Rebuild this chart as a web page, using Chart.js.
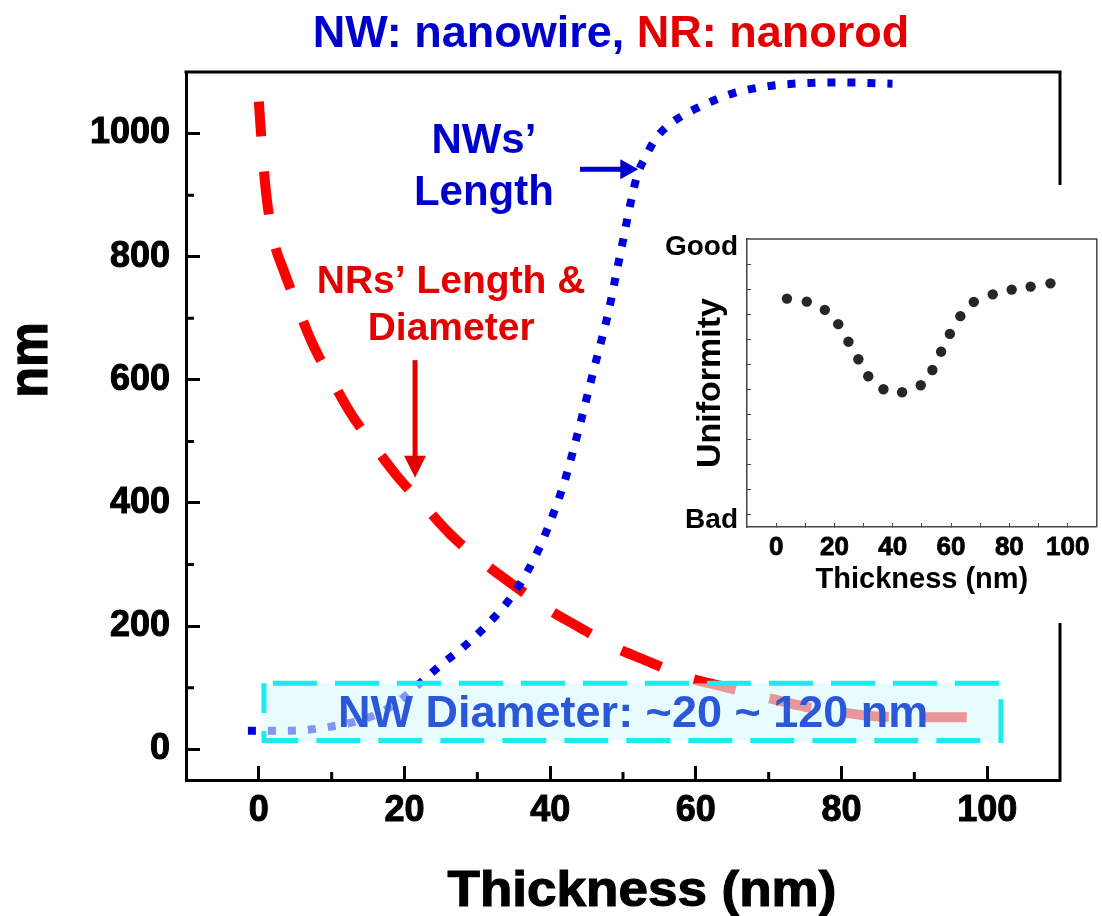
<!DOCTYPE html>
<html>
<head>
<meta charset="utf-8">
<title>NW / NR vs thickness</title>
<script src="https://cdn.jsdelivr.net/npm/chart.js@4.4.1/dist/chart.umd.min.js"></script>
<style>
  html, body { margin: 0; padding: 0; background: #fff; }
  #wrap { position: relative; width: 1102px; height: 916px; overflow: hidden; }
  #main { position: absolute; left: 0; top: 0; }
  #inset { position: absolute; left: 656px; top: 185px; }
</style>
</head>
<body>
<div id="wrap">
  <canvas id="main" width="1102" height="916"></canvas>
  <canvas id="inset" width="446" height="438"></canvas>
</div>
<script>
// ---- data ----
// nanowire length (nm) against film thickness (nm)
const nwThickness = [-1.5, 3, 7, 10, 13, 16, 19, 22, 25, 28, 31, 34, 36, 38, 40, 42, 44, 46, 48, 49, 50, 51, 52, 53, 54.5, 56, 58, 61, 65, 70, 75, 80, 87];
const nwLength    = [30, 30, 32, 37, 44, 56, 76, 106, 137, 165, 198, 237, 271, 314, 369, 436, 523, 617, 710, 768, 826, 885, 934, 960, 992, 1011, 1028, 1046, 1065, 1077, 1082, 1083, 1081];

// nanorod length & diameter (nm) against film thickness (nm)
const nrThickness = [0, 0.3, 1, 2, 3.4, 5, 7.4, 10, 12.6, 16, 19.1, 22.5, 26.3, 30.5, 34.8, 39.5, 44, 49, 53.6, 58.5, 64, 70, 75, 80, 85, 90, 96, 99.5];
const nrSize      = [1052, 1000, 903, 828, 778, 728, 658, 600, 546, 490, 442, 398, 349, 306, 268, 229, 198, 165, 142, 118, 101, 83, 69, 60, 53, 52, 52, 52];

// inset: uniformity rating against thickness
const insetThickness  = [3.7, 10.5, 16.7, 21.3, 24.8, 28.2, 31.6, 36.8, 43.2, 49.6, 53.6, 56.6, 59.6, 63.2, 67.8, 74.3, 80.8, 87.3, 94.1];
const insetUniformity = [8.62, 8.50, 8.17, 7.60, 6.90, 6.20, 5.52, 5.00, 4.88, 5.16, 5.77, 6.50, 7.21, 7.92, 8.49, 8.79, 8.98, 9.10, 9.23];

// tick values
const mainXTicks  = [0, 20, 40, 60, 80, 100];
const mainXMinor  = [10, 30, 50, 70, 90];
const mainYTicks  = [0, 200, 400, 600, 800, 1000];
const mainYMinor  = [100, 300, 500, 700, 900];
const insetXTicks = [0, 10, 20, 30, 40, 50, 60, 70, 80, 90, 100];
const insetYTicks = [0, 1, 2, 3, 4, 5, 6, 7, 8, 9, 10];
const ratingNames = ['Bad', 'Good'];
const ratingLevels = [-0.22, 10.68];

// ---- shared style ----
const FONT = "'Liberation Sans', Arial, Helvetica, sans-serif";
const BLUE = '#0000DD';
const BLUE_TEXT = '#0000CC';
const RED = '#FF0000';
const RED_TEXT = '#E30000';

// annotation anchors, in data units of the main chart
const notes = {
  nwLabel:   { x: 30.9, lines: [['NWs\u2019', 968], ['Length', 884]] },
  nwArrow:   { x1: 44.1, x2: 52.1, y: 942 },
  nrLabel:   { x: 26.4, lines: [['NRs\u2019 Length &', 741], ['Diameter', 665]] },
  nrArrow:   { x: 21.45, y1: 632, y2: 441 },
  diamBox:   { x1: 0.7, x2: 101.9, y1: 14, y2: 107 },
  diamText:  { x: 51.4, y: 36.6, text: 'NW Diameter: ~20 ~ 120 nm' }
};

function drawArrow(ctx, x1, y1, x2, y2, color, shaft, headLen, headW) {
  const ang = Math.atan2(y2 - y1, x2 - x1);
  const len = Math.hypot(x2 - x1, y2 - y1);
  ctx.save();
  ctx.translate(x1, y1);
  ctx.rotate(ang);
  ctx.fillStyle = color;
  ctx.fillRect(0, -shaft / 2, len - headLen + 1, shaft);
  ctx.beginPath();
  ctx.moveTo(len, 0);
  ctx.lineTo(len - headLen, -headW / 2);
  ctx.lineTo(len - headLen, headW / 2);
  ctx.closePath();
  ctx.fill();
  ctx.restore();
}

const mainDecor = {
  id: 'mainDecor',
  beforeDatasetsDraw(chart) {
    const { ctx, chartArea: a, scales: { x, y } } = chart;
    ctx.save();
    ctx.strokeStyle = '#000';
    ctx.lineWidth = 3;
    // top and right edges of the frame
    ctx.beginPath();
    ctx.moveTo(a.left - 1.5, a.top);
    ctx.lineTo(a.right, a.top);
    ctx.lineTo(a.right, a.bottom + 1.5);
    ctx.stroke();
    // minor ticks, pointing inwards
    ctx.beginPath();
    mainXMinor.forEach(v => {
      const px = x.getPixelForValue(v);
      ctx.moveTo(px, a.bottom);
      ctx.lineTo(px, a.bottom - 8);
    });
    mainYMinor.forEach(v => {
      const py = y.getPixelForValue(v);
      ctx.moveTo(a.left, py);
      ctx.lineTo(a.left + 8, py);
    });
    ctx.stroke();
    ctx.restore();
  },
  afterDatasetsDraw(chart) {
    const { ctx, scales: { x, y } } = chart;
    ctx.save();

    // translucent diameter box over the curves
    const b = notes.diamBox;
    const bx1 = x.getPixelForValue(b.x1), bx2 = x.getPixelForValue(b.x2);
    const by1 = y.getPixelForValue(b.y2), by2 = y.getPixelForValue(b.y1);
    ctx.fillStyle = 'rgba(217, 250, 252, 0.6)';
    ctx.fillRect(bx1, by1, bx2 - bx1, by2 - by1);
    ctx.strokeStyle = 'rgb(25, 236, 240)';
    ctx.lineWidth = 5;
    ctx.setLineDash([44, 18]);
    ctx.lineDashOffset = 53;
    ctx.strokeRect(bx1, by1, bx2 - bx1, by2 - by1);
    ctx.setLineDash([]);

    const t = notes.diamText;
    ctx.font = `bold 45px ${FONT}`;
    ctx.textAlign = 'center';
    ctx.textBaseline = 'alphabetic';
    ctx.fillStyle = 'rgb(42, 88, 216)';
    ctx.fillText(t.text, x.getPixelForValue(t.x), y.getPixelForValue(t.y));

    // nanowire label + arrow
    ctx.font = `bold 42px ${FONT}`;
    ctx.fillStyle = BLUE_TEXT;
    notes.nwLabel.lines.forEach(([s, v]) => {
      ctx.fillText(s, x.getPixelForValue(notes.nwLabel.x), y.getPixelForValue(v));
    });
    const na = notes.nwArrow;
    drawArrow(ctx, x.getPixelForValue(na.x1), y.getPixelForValue(na.y),
              x.getPixelForValue(na.x2), y.getPixelForValue(na.y), BLUE_TEXT, 5, 18, 20);

    // nanorod label + arrow
    ctx.font = `bold 39px ${FONT}`;
    ctx.fillStyle = RED_TEXT;
    notes.nrLabel.lines.forEach(([s, v]) => {
      ctx.fillText(s, x.getPixelForValue(notes.nrLabel.x), y.getPixelForValue(v));
    });
    const ra = notes.nrArrow;
    drawArrow(ctx, x.getPixelForValue(ra.x), y.getPixelForValue(ra.y1),
              x.getPixelForValue(ra.x), y.getPixelForValue(ra.y2), RED_TEXT, 5, 22, 22);
    ctx.restore();
  },
  afterDraw(chart) {
    const { ctx } = chart;
    ctx.save();
    // two-colour heading
    const parts = [['NW: nanowire, ', BLUE_TEXT], ['NR: nanorod', RED_TEXT]];
    ctx.font = `bold 45px ${FONT}`;
    ctx.textBaseline = 'alphabetic';
    ctx.textAlign = 'left';
    const total = parts.reduce((s, p) => s + ctx.measureText(p[0]).width, 0);
    let cx = 611 - total / 2;
    parts.forEach(([s, c]) => {
      ctx.fillStyle = c;
      ctx.fillText(s, cx, 47);
      cx += ctx.measureText(s).width;
    });

    // axis titles
    ctx.fillStyle = '#000';
    ctx.strokeStyle = '#000';
    ctx.lineWidth = 1.2;
    ctx.textAlign = 'center';
    ctx.font = `bold 50px ${FONT}`;
    ctx.save();
    ctx.translate(642, 906);
    ctx.scale(1.06, 1);
    ctx.fillText('Thickness (nm)', 0, 0);
    ctx.strokeText('Thickness (nm)', 0, 0);
    ctx.restore();

    ctx.save();
    ctx.translate(47, 360);
    ctx.rotate(-Math.PI / 2);
    ctx.scale(0.9, 1);
    ctx.font = `bold 56px ${FONT}`;
    ctx.fillText('nm', 0, 0);
    ctx.strokeText('nm', 0, 0);
    ctx.restore();
    ctx.restore();
  }
};

new Chart(document.getElementById('main'), {
  type: 'line',
  data: {
    datasets: [
      {
        label: 'NW length',
        data: nwThickness.map((v, i) => ({ x: v, y: nwLength[i] })),
        borderColor: BLUE,
        borderWidth: 8,
        borderDash: [8, 12],
        borderCapStyle: 'butt',
        pointRadius: 0,
        fill: false,
        cubicInterpolationMode: 'monotone'
      },
      {
        label: 'NR length & diameter',
        data: nrThickness.map((v, i) => ({ x: v, y: nrSize[i] })),
        borderColor: RED,
        borderWidth: 10,
        borderDash: [43, 35],
        borderDashOffset: 8,
        borderCapStyle: 'butt',
        pointRadius: 0,
        fill: false,
        cubicInterpolationMode: 'monotone'
      }
    ]
  },
  options: {
    responsive: false,
    animation: false,
    devicePixelRatio: 1,
    layout: { padding: { top: 72, right: 42, left: 0, bottom: 0 } },
    plugins: { legend: { display: false }, tooltip: { enabled: false }, title: { display: false } },
    scales: {
      x: {
        type: 'linear',
        min: -10, max: 110,
        afterFit: s => { s.height = 136; },
        afterBuildTicks: s => { s.ticks = mainXTicks.map(v => ({ value: v })); },
        grid: { drawOnChartArea: false, tickLength: -14, tickWidth: 3, tickColor: '#000' },
        border: { display: true, color: '#000', width: 3 },
        ticks: {
          autoSkip: false, maxRotation: 0, padding: 27, color: '#000',
          textStrokeColor: '#000', textStrokeWidth: 1,
          font: { family: FONT, size: 36, weight: 'bold', lineHeight: 1 },
          callback: v => String(v)
        }
      },
      y: {
        type: 'linear',
        min: -50, max: 1100,
        afterFit: s => { s.width = 186; },
        afterBuildTicks: s => { s.ticks = mainYTicks.map(v => ({ value: v })); },
        grid: { drawOnChartArea: false, tickLength: -14, tickWidth: 3, tickColor: '#000' },
        border: { display: true, color: '#000', width: 3 },
        ticks: {
          autoSkip: false, padding: 30, color: '#000',
          textStrokeColor: '#000', textStrokeWidth: 1,
          font: { family: FONT, size: 36, weight: 'bold', lineHeight: 1 },
          callback: v => String(v)
        }
      }
    }
  },
  plugins: [mainDecor]
});

// ---- inset: uniformity ----
const insetDecor = {
  id: 'insetDecor',
  beforeDraw(chart) {
    const { ctx, width, height } = chart;
    ctx.save();
    ctx.fillStyle = '#fff';
    ctx.fillRect(0, 0, width, height);
    ctx.restore();
  },
  afterDraw(chart) {
    const { ctx, chartArea: a } = chart;
    ctx.save();
    ctx.strokeStyle = '#444';
    ctx.lineWidth = 1.5;
    ctx.beginPath();
    ctx.moveTo(a.left, a.top);
    ctx.lineTo(a.right, a.top);
    ctx.lineTo(a.right, a.bottom);
    ctx.stroke();
    ctx.restore();
  }
};

new Chart(document.getElementById('inset'), {
  type: 'scatter',
  data: {
    datasets: [{
      label: 'Uniformity',
      data: insetThickness.map((v, i) => ({ x: v, y: insetUniformity[i] })),
      pointRadius: 5.2,
      pointBackgroundColor: '#262626',
      pointBorderWidth: 0,
      showLine: false
    }]
  },
  options: {
    responsive: false,
    animation: false,
    devicePixelRatio: 1,
    layout: { padding: { top: 54, right: 1, left: 0, bottom: 0 } },
    plugins: { legend: { display: false }, tooltip: { enabled: false } },
    scales: {
      x: {
        type: 'linear',
        min: -10, max: 110,
        afterFit: s => { s.height = 96; },
        afterBuildTicks: s => { s.ticks = insetXTicks.map(v => ({ value: v })); },
        grid: { drawOnChartArea: false, tickLength: -4, tickWidth: 1, tickColor: '#444' },
        border: { display: true, color: '#444', width: 1.5 },
        ticks: {
          autoSkip: false, maxRotation: 0, padding: 12, color: '#000',
          textStrokeColor: '#000', textStrokeWidth: 0.8,
          font: { family: FONT, size: 26, weight: 'bold', lineHeight: 1 },
          callback: v => (v % 20 === 0 ? String(v) : '')
        },
        title: {
          display: true, text: 'Thickness (nm)', color: '#000',
          font: { family: FONT, size: 29, weight: 'bold', lineHeight: 1 },
          padding: { top: 0, bottom: 28.5 }
        }
      },
      y: {
        type: 'linear',
        min: -0.5, max: 11,
        afterFit: s => { s.width = 91; },
        afterBuildTicks: s => {
          const t = insetYTicks.map(v => ({ value: v }));
          t.unshift({ value: ratingLevels[0] });
          t.push({ value: ratingLevels[1] });
          s.ticks = t;
        },
        grid: {
          drawOnChartArea: false, tickLength: -4, tickWidth: 1,
          tickColor: c => (c.tick && Number.isInteger(c.tick.value) ? '#444' : 'rgba(0,0,0,0)')
        },
        border: { display: true, color: '#444', width: 1.5 },
        ticks: {
          autoSkip: false, padding: 13, color: '#000',
          font: { family: FONT, size: 28, weight: 'bold', lineHeight: 1 },
          callback: v => {
            const k = ratingLevels.indexOf(v);
            return k >= 0 ? ratingNames[k] : '';
          }
        },
        title: {
          display: true, text: 'Uniformity', color: '#000',
          font: { family: FONT, size: 34, weight: 'bold', lineHeight: 1 },
          padding: { top: 38, bottom: 0 }
        }
      }
    }
  },
  plugins: [insetDecor]
});
</script>
</body>
</html>
